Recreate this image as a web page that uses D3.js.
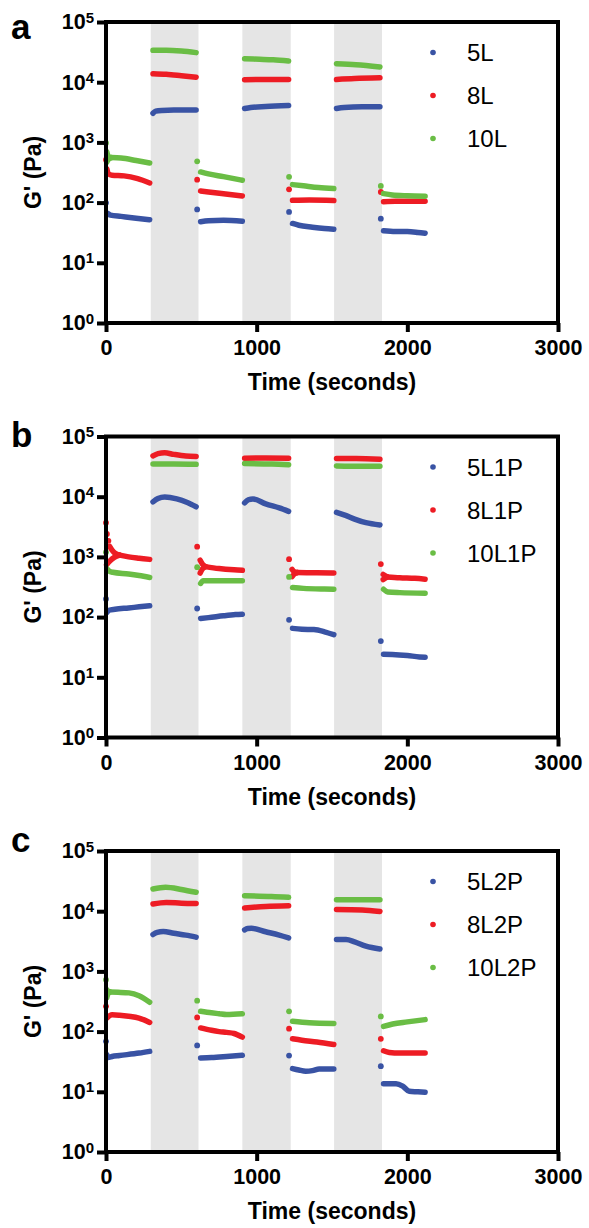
<!DOCTYPE html>
<html lang="en">

<head>
    <meta charset="UTF-8">
    <title>G' vs time - recovery cycles</title>
    <script src="https://d3js.org/d3.v7.min.js"></script>
    <style>
        body {
            margin: 0;
            background: #fff;
            font-family: "Liberation Sans", Arial, Helvetica, sans-serif;
        }

        .tick line,
        .domain {
            stroke: #000;
            stroke-width: 4;
        }

        .tick text {
            font-weight: bold;
            font-size: 21.5px;
            fill: #000;
        }
    </style>
</head>

<body>
    <svg width="589" height="1228"></svg>

    <script>
        // axis ticks and shaded (high strain) intervals, in seconds
        const xTicks = [0, 1000, 2000, 3000];
        const yTicks = [1, 10, 100, 1000, 10000, 100000];
        const bands = [[297, 614], [905, 1226], [1514, 1832]];

        const namesA = ["5L", "8L", "10L"];
        const namesB = ["5L1P", "8L1P", "10L1P"];
        const namesC = ["5L2P", "8L2P", "10L2P"];
        const colors = ["#3953a4", "#ed1c24", "#6abd45"];

        // each series = list of runs, each run = [time (s), G' (Pa)]
        const a5L = [
            [[0, 99]],
            [[12, 66], [30, 62], [100, 59], [200, 55], [290, 52]],
            [[312, 3050], [330, 3300], [370, 3400], [450, 3450], [598, 3450]],
            [[605, 77]],
            [[628, 48], [680, 50], [780, 51], [905, 49]],
            [[920, 3650], [960, 3800], [1060, 3950], [1212, 4100]],
            [[1215, 70]],
            [[1238, 45], [1280, 42], [1370, 39], [1450, 37], [1512, 36]],
            [[1530, 3650], [1580, 3800], [1700, 3900], [1818, 3900]],
            [[1824, 54]],
            [[1842, 34], [1920, 33], [2000, 33], [2070, 32], [2118, 31]]
        ];
        const a8L = [
            [[0, 515]],
            [[6, 360], [16, 300], [40, 285], [120, 278], [210, 250], [290, 212]],
            [[312, 13800], [400, 13500], [500, 12800], [598, 12100]],
            [[605, 240]],
            [[628, 156], [680, 150], [780, 140], [905, 129]],
            [[920, 11000], [1050, 11100], [1212, 11100]],
            [[1215, 166]],
            [[1238, 109], [1350, 110], [1512, 108]],
            [[1530, 11100], [1650, 11500], [1818, 11800]],
            [[1824, 150]],
            [[1842, 103], [1920, 105], [2118, 105]]
        ];
        const a10L = [
            [[0, 980]],
            [[5, 700], [15, 590], [35, 560]],
            [[5, 470], [15, 520], [35, 560]],
            [[35, 560], [100, 550], [200, 500], [290, 455]],
            [[312, 33800], [400, 34000], [500, 33000], [598, 31000]],
            [[605, 485]],
            [[628, 323], [680, 300], [780, 270], [905, 235]],
            [[920, 24500], [1020, 24000], [1110, 23500], [1212, 22500]],
            [[1215, 268]],
            [[1238, 199], [1310, 190], [1410, 178], [1512, 171]],
            [[1530, 20300], [1660, 19500], [1818, 17900]],
            [[1824, 189]],
            [[1842, 141], [1900, 134], [2000, 130], [2118, 128]]
        ];

        const b5L1P = [
            [[0, 200]],
            [[6, 119], [20, 130], [60, 135], [150, 142], [220, 148], [290, 154]],
            [[312, 8200], [345, 9300], [390, 9900], [470, 9200], [540, 8000], [598, 6800]],
            [[605, 139]],
            [[628, 95], [680, 98], [780, 105], [860, 110], [905, 112]],
            [[920, 7900], [945, 8900], [975, 9200], [1060, 7600], [1150, 6500], [1212, 5700]],
            [[1215, 90]],
            [[1238, 65], [1300, 63], [1380, 62], [1450, 57], [1512, 51]],
            [[1530, 5500], [1590, 4900], [1650, 4250], [1725, 3700], [1818, 3400]],
            [[1824, 40]],
            [[1842, 24.2], [1900, 24], [2000, 23], [2080, 21.8], [2118, 21.6]]
        ];
        const b8L1P = [
            [[0, 3700]],
            [[6, 2400]],
            [[16, 1850]],
            [[24, 1500], [40, 1300], [60, 1150], [90, 1070]],
            [[4, 740], [25, 850], [55, 980], [90, 1070]],
            [[90, 1070], [150, 1000], [220, 950], [290, 910]],
            [[312, 47600], [345, 52000], [390, 53500], [450, 50500], [530, 47500], [598, 46700]],
            [[605, 1480]],
            [[625, 880], [640, 760], [660, 690]],
            [[625, 540], [640, 630], [660, 690]],
            [[660, 690], [750, 640], [850, 610], [905, 600]],
            [[920, 43500], [1060, 44000], [1212, 43700]],
            [[1215, 915]],
            [[1235, 620], [1250, 565], [1270, 550]],
            [[1235, 470], [1250, 520], [1270, 550]],
            [[1270, 550], [1400, 545], [1512, 540]],
            [[1530, 43000], [1660, 43000], [1818, 42000]],
            [[1824, 760]],
            [[1840, 510], [1865, 465]],
            [[1840, 420], [1865, 465]],
            [[1865, 465], [1950, 450], [2050, 440], [2118, 427]]
        ];
        const b10L1P = [
            [[0, 1200]],
            [[6, 640], [20, 585], [45, 555], [150, 520], [220, 490], [290, 455]],
            [[312, 35000], [450, 35000], [598, 34500]],
            [[605, 675]],
            [[628, 362], [645, 400], [760, 400], [905, 400]],
            [[920, 35500], [1100, 35000], [1212, 34000]],
            [[1215, 465]],
            [[1238, 310], [1310, 300], [1450, 292], [1512, 290]],
            [[1530, 32500], [1700, 32000], [1818, 32000]],
            [[1842, 290], [1870, 262], [1950, 255], [2118, 250]]
        ];

        const c5L2P = [
            [[0, 69]],
            [[6, 41], [14, 37], [40, 38.5], [90, 40], [220, 44], [290, 47]],
            [[312, 4100], [340, 4450], [380, 4600], [450, 4300], [530, 4000], [598, 3700]],
            [[605, 59]],
            [[628, 36.5], [700, 37], [800, 38.5], [905, 40.4]],
            [[920, 4900], [940, 5150], [965, 5200], [1060, 4550], [1150, 4000], [1212, 3600]],
            [[1215, 40]],
            [[1238, 24.3], [1280, 23], [1326, 22], [1370, 22.5], [1415, 24], [1512, 24]],
            [[1530, 3380], [1593, 3380], [1650, 3100], [1725, 2620], [1818, 2350]],
            [[1824, 26.6]],
            [[1842, 13.6], [1925, 13.6], [1969, 12.4], [2013, 10.2], [2070, 10], [2118, 9.8]]
        ];
        const c8L2P = [
            [[0, 263]],
            [[6, 168], [40, 190], [90, 187], [150, 180], [219, 168], [290, 142]],
            [[312, 13200], [400, 14000], [500, 13600], [598, 13400]],
            [[605, 172]],
            [[628, 115], [700, 105], [751, 100], [800, 97], [850, 93], [905, 81]],
            [[920, 11300], [1060, 12000], [1212, 12300]],
            [[1215, 112]],
            [[1238, 76], [1300, 72], [1400, 67], [1512, 61]],
            [[1530, 10700], [1700, 10500], [1818, 9900]],
            [[1824, 76]],
            [[1842, 48], [1880, 45], [1950, 44], [2118, 44]]
        ];
        const c10L2P = [
            [[0, 730]],
            [[5, 500], [12, 470], [25, 455]],
            [[5, 365], [12, 420], [25, 455]],
            [[25, 455], [80, 450], [153, 440], [219, 395], [290, 307]],
            [[312, 23400], [396, 25000], [500, 23000], [598, 20600]],
            [[605, 326]],
            [[628, 217], [700, 205], [751, 198], [800, 192], [905, 198]],
            [[920, 18100], [1100, 17600], [1212, 17000]],
            [[1215, 217]],
            [[1238, 148], [1350, 140], [1512, 136]],
            [[1530, 15500], [1818, 15500]],
            [[1824, 179]],
            [[1842, 122], [1903, 134], [2000, 145], [2118, 158]]
        ];

        const panels = [
            { letter: "a", letterY: 39, bottom: 323, names: namesA, series: [a5L, a8L, a10L] },
            { letter: "b", letterY: 447, bottom: 737.5, names: namesB, series: [b5L1P, b8L1P, b10L1P] },
            { letter: "c", letterY: 852, bottom: 1152, names: namesC, series: [c5L2P, c8L2P, c10L2P] }
        ];

        const svg = d3.select("svg");
        const left = 106, right = 558, plotH = 301;

        const x = d3.scaleLinear().domain([0, 3000]).range([left, right]);

        panels.forEach(p => {
            const top = p.bottom - plotH;
            const y = d3.scaleLog().domain([1, 100000]).range([p.bottom, top]);
            const g = svg.append("g");

            // shaded intervals
            g.selectAll(".band")
                .data(bands)
                .enter().append("rect")
                .attr("x", d => x(d[0]))
                .attr("width", d => x(d[1]) - x(d[0]))
                .attr("y", top)
                .attr("height", p.bottom - top)
                .attr("fill", "#e5e5e5");

            const line = d3.line()
                .x(d => x(d[0]))
                .y(d => y(d[1]))
                .curve(d3.curveMonotoneX);

            p.series.forEach((runs, i) => {
                const s = g.append("g");
                s.selectAll("path")
                    .data(runs.filter(r => r.length > 1))
                    .enter().append("path")
                    .attr("d", line)
                    .attr("fill", "none")
                    .attr("stroke", colors[i])
                    .attr("stroke-width", 5.5)
                    .attr("stroke-linecap", "round")
                    .attr("stroke-linejoin", "round");
                s.selectAll("circle")
                    .data(runs.filter(r => r.length === 1))
                    .enter().append("circle")
                    .attr("cx", d => x(d[0][0]))
                    .attr("cy", d => y(d[0][1]))
                    .attr("r", 2.9)
                    .attr("fill", colors[i]);
            });

            // frame
            g.append("rect")
                .attr("x", left).attr("y", top)
                .attr("width", right - left).attr("height", p.bottom - top)
                .attr("fill", "none").attr("stroke", "#000").attr("stroke-width", 4);

            const yAxis = g.append("g")
                .attr("transform", `translate(${left},0)`)
                .call(d3.axisLeft(y).tickValues(yTicks).tickSize(9).tickSizeOuter(0).tickPadding(3).tickFormat(""));
            yAxis.select(".domain").remove();
            yAxis.selectAll(".tick text").each(function (d) {
                const t = d3.select(this);
                t.append("tspan").text("10");
                t.append("tspan")
                    .attr("dy", "-0.45em")
                    .attr("font-size", "15px")
                    .text(Math.round(Math.log10(d)));
            });

            const xAxis = g.append("g")
                .attr("transform", `translate(0,${p.bottom})`)
                .call(d3.axisBottom(x).tickValues(xTicks).tickFormat(d3.format("d"))
                    .tickSize(9).tickSizeOuter(0).tickPadding(8));
            xAxis.select(".domain").remove();

            g.append("text")
                .attr("x", (left + right) / 2)
                .attr("y", p.bottom + 67)
                .attr("text-anchor", "middle")
                .attr("font-weight", "bold")
                .attr("font-size", 23)
                .text("Time (seconds)");

            g.append("text")
                .attr("transform", `translate(33,${(top + p.bottom) / 2}) rotate(-90)`)
                .attr("dy", "0.35em")
                .attr("text-anchor", "middle")
                .attr("font-weight", "bold")
                .attr("font-size", 23)
                .text("G' (Pa)");

            g.append("text")
                .attr("x", 11)
                .attr("y", p.letterY)
                .attr("font-weight", "bold")
                .attr("font-size", 35)
                .text(p.letter);

            // legend
            const leg = g.selectAll(".leg")
                .data(p.names)
                .enter().append("g")
                .attr("transform", (d, i) => `translate(433,${top + 30.5 + i * 43})`);
            leg.append("circle")
                .attr("r", 2.8)
                .attr("fill", (d, i) => colors[i]);
            leg.append("text")
                .attr("x", 34)
                .attr("dy", "0.36em")
                .attr("font-size", 24)
                .text(d => d);
        });
    </script>
</body>

</html>
